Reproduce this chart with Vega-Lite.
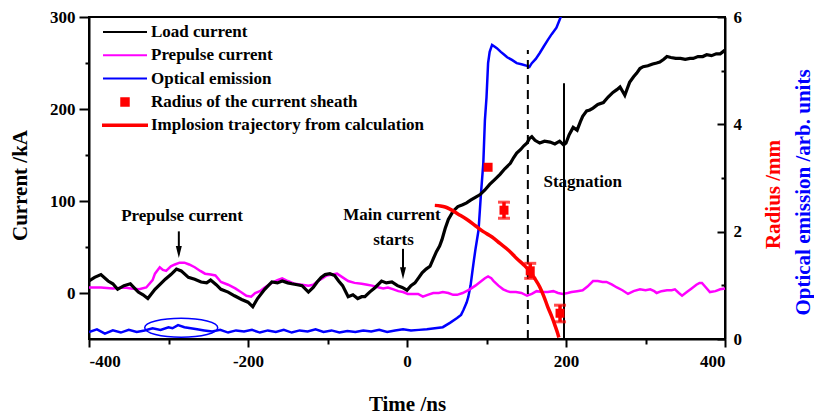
{
"$schema": "https://vega.github.io/schema/vega-lite/v6.json",
"width": 636, "height": 322,
"autosize": {"type": "none"},
"padding": {"left": 89, "top": 17, "right": 89, "bottom": 75},
"background": "white",
"config": {
  "view": {"stroke": "black", "strokeWidth": 2},
  "axis": {"domainColor": "black", "domainWidth": 2, "tickColor": "black", "tickWidth": 2, "labelColor": "black", "titleColor": "black", "labelFont": "Liberation Serif", "labelFontWeight": "bold", "labelFontSize": 17, "titleFont": "Liberation Serif", "titleFontWeight": "bold", "titleFontSize": 21, "grid": false},
  "legend": {"labelFont": "Liberation Serif", "labelFontWeight": "bold", "labelFontSize": 17, "labelColor": "black", "labelLimit": 500, "symbolStrokeWidth": 2},
  "text": {"font": "Liberation Serif", "fontWeight": "bold", "fontSize": 17, "color": "black"}
},
"datasets": {
  "load": [
    {"t":-400,"v":13},{"t":-393,"v":17},{"t":-385,"v":20},{"t":-376,"v":13},{"t":-370,"v":10},{"t":-364,"v":4},{"t":-356,"v":8},{"t":-348,"v":10},{"t":-338,"v":1},{"t":-332,"v":-2},{"t":-326,"v":-6},{"t":-317,"v":4},{"t":-310,"v":10},{"t":-304,"v":15},{"t":-297,"v":20},{"t":-290,"v":26},{"t":-284,"v":24},{"t":-275,"v":17},{"t":-267,"v":15},{"t":-259,"v":12},{"t":-252,"v":11},{"t":-247,"v":14},{"t":-240,"v":9},{"t":-234,"v":4},{"t":-225,"v":1},{"t":-217,"v":-3},{"t":-208,"v":-7},{"t":-200,"v":-10},{"t":-194,"v":-15},{"t":-188,"v":-6},{"t":-179,"v":4},{"t":-170,"v":12},{"t":-163,"v":11},{"t":-157,"v":13},{"t":-150,"v":11},{"t":-145,"v":10},{"t":-138,"v":9},{"t":-132,"v":8},{"t":-124,"v":1},{"t":-118,"v":6},{"t":-113,"v":12},{"t":-108,"v":17},{"t":-103,"v":20},{"t":-97,"v":21},{"t":-91,"v":19},{"t":-86,"v":13},{"t":-81,"v":8},{"t":-74,"v":-4},{"t":-68,"v":-2},{"t":-62,"v":-6},{"t":-57,"v":-4},{"t":-53,"v":-4},{"t":-47,"v":1},{"t":-40,"v":6},{"t":-32,"v":13},{"t":-26,"v":11},{"t":-19,"v":12},{"t":-12,"v":8},{"t":-6,"v":6},{"t":0,"v":3},{"t":5,"v":8},{"t":10,"v":11},{"t":15,"v":17},{"t":19,"v":22},{"t":24,"v":26},{"t":29,"v":29},{"t":33,"v":37},{"t":37,"v":45},{"t":41,"v":51},{"t":44,"v":58},{"t":48,"v":70},{"t":52,"v":80},{"t":58,"v":89},{"t":64,"v":94},{"t":70,"v":96},{"t":75,"v":98},{"t":80,"v":101},{"t":86,"v":104},{"t":92,"v":107},{"t":98,"v":112},{"t":104,"v":118},{"t":110,"v":123},{"t":117,"v":129},{"t":123,"v":135},{"t":130,"v":141},{"t":134,"v":147},{"t":138,"v":152},{"t":143,"v":156},{"t":147,"v":160},{"t":151,"v":163},{"t":154,"v":168},{"t":157,"v":170},{"t":161,"v":166},{"t":167,"v":163},{"t":173,"v":165},{"t":180,"v":164},{"t":186,"v":162},{"t":192,"v":165},{"t":197,"v":161},{"t":200,"v":163},{"t":204,"v":172},{"t":209,"v":180},{"t":214,"v":177},{"t":218,"v":186},{"t":221,"v":192},{"t":226,"v":198},{"t":230,"v":199},{"t":234,"v":201},{"t":240,"v":205},{"t":247,"v":207},{"t":253,"v":213},{"t":259,"v":218},{"t":264,"v":221},{"t":268,"v":224},{"t":272,"v":218},{"t":274,"v":215},{"t":277,"v":222},{"t":280,"v":229},{"t":285,"v":235},{"t":289,"v":239},{"t":293,"v":244},{"t":297,"v":246},{"t":303,"v":247},{"t":309,"v":249},{"t":314,"v":250},{"t":318,"v":251},{"t":323,"v":254},{"t":327,"v":257},{"t":332,"v":256},{"t":338,"v":255},{"t":344,"v":255},{"t":350,"v":254},{"t":356,"v":255},{"t":360,"v":255},{"t":366,"v":257},{"t":372,"v":257},{"t":377,"v":259},{"t":383,"v":258},{"t":389,"v":260},{"t":394,"v":260},{"t":400,"v":264}
  ],
  "prepulse": [
    {"t":-400,"v":6},{"t":-385,"v":6},{"t":-370,"v":5},{"t":-355,"v":6},{"t":-347,"v":5},{"t":-337,"v":4},{"t":-328,"v":6},{"t":-320,"v":14},{"t":-317,"v":21},{"t":-311,"v":28},{"t":-307,"v":25},{"t":-303,"v":24},{"t":-297,"v":29},{"t":-292,"v":31},{"t":-286,"v":33},{"t":-280,"v":33},{"t":-274,"v":31},{"t":-267,"v":28},{"t":-260,"v":24},{"t":-254,"v":21},{"t":-247,"v":20},{"t":-241,"v":19},{"t":-234,"v":12},{"t":-225,"v":9},{"t":-216,"v":5},{"t":-209,"v":1},{"t":-202,"v":-3},{"t":-196,"v":-4},{"t":-191,"v":0},{"t":-185,"v":2},{"t":-179,"v":6},{"t":-170,"v":11},{"t":-163,"v":14},{"t":-157,"v":16},{"t":-150,"v":13},{"t":-141,"v":10},{"t":-132,"v":9},{"t":-124,"v":8},{"t":-118,"v":9},{"t":-112,"v":13},{"t":-106,"v":16},{"t":-101,"v":19},{"t":-94,"v":20},{"t":-88,"v":21},{"t":-81,"v":17},{"t":-74,"v":13},{"t":-66,"v":11},{"t":-57,"v":10},{"t":-50,"v":9},{"t":-44,"v":8},{"t":-35,"v":6},{"t":-30,"v":5},{"t":-24,"v":6},{"t":-17,"v":4},{"t":-11,"v":2},{"t":-5,"v":1},{"t":1,"v":-1},{"t":8,"v":-1},{"t":14,"v":-1},{"t":20,"v":-4},{"t":26,"v":-2},{"t":33,"v":0},{"t":40,"v":0},{"t":45,"v":1},{"t":52,"v":0},{"t":58,"v":-2},{"t":63,"v":-2},{"t":70,"v":0},{"t":79,"v":4},{"t":86,"v":8},{"t":92,"v":12},{"t":98,"v":16},{"t":102,"v":18},{"t":106,"v":16},{"t":109,"v":13},{"t":115,"v":8},{"t":121,"v":4},{"t":126,"v":2},{"t":130,"v":1},{"t":137,"v":1},{"t":144,"v":0},{"t":151,"v":-3},{"t":157,"v":-1},{"t":163,"v":2},{"t":170,"v":1},{"t":177,"v":1},{"t":184,"v":2},{"t":190,"v":0},{"t":196,"v":-1},{"t":202,"v":0},{"t":207,"v":1},{"t":214,"v":2},{"t":221,"v":3},{"t":227,"v":7},{"t":234,"v":13},{"t":240,"v":13},{"t":246,"v":12},{"t":251,"v":12},{"t":258,"v":9},{"t":264,"v":6},{"t":271,"v":3},{"t":278,"v":-1},{"t":285,"v":2},{"t":293,"v":4},{"t":300,"v":3},{"t":306,"v":4},{"t":311,"v":2},{"t":314,"v":0},{"t":320,"v":2},{"t":327,"v":3},{"t":333,"v":3},{"t":337,"v":4},{"t":342,"v":0},{"t":346,"v":-3},{"t":352,"v":1},{"t":358,"v":5},{"t":364,"v":9},{"t":368,"v":11},{"t":371,"v":11},{"t":376,"v":6},{"t":381,"v":1},{"t":388,"v":2},{"t":394,"v":4},{"t":400,"v":5}
  ],
  "optical": [
    {"t":-400,"v":0.13},{"t":-390,"v":0.18},{"t":-380,"v":0.1},{"t":-370,"v":0.16},{"t":-360,"v":0.12},{"t":-350,"v":0.17},{"t":-340,"v":0.13},{"t":-330,"v":0.16},{"t":-320,"v":0.2},{"t":-310,"v":0.17},{"t":-300,"v":0.22},{"t":-295,"v":0.2},{"t":-288,"v":0.26},{"t":-280,"v":0.22},{"t":-272,"v":0.2},{"t":-264,"v":0.18},{"t":-255,"v":0.16},{"t":-245,"v":0.14},{"t":-235,"v":0.17},{"t":-225,"v":0.12},{"t":-215,"v":0.16},{"t":-205,"v":0.14},{"t":-195,"v":0.17},{"t":-185,"v":0.12},{"t":-175,"v":0.16},{"t":-165,"v":0.13},{"t":-155,"v":0.17},{"t":-145,"v":0.12},{"t":-135,"v":0.16},{"t":-125,"v":0.14},{"t":-115,"v":0.18},{"t":-105,"v":0.13},{"t":-95,"v":0.16},{"t":-85,"v":0.12},{"t":-75,"v":0.15},{"t":-65,"v":0.13},{"t":-55,"v":0.16},{"t":-45,"v":0.14},{"t":-35,"v":0.17},{"t":-25,"v":0.13},{"t":-15,"v":0.16},{"t":-5,"v":0.18},{"t":5,"v":0.16},{"t":15,"v":0.17},{"t":25,"v":0.18},{"t":35,"v":0.2},{"t":45,"v":0.22},{"t":54,"v":0.3},{"t":63,"v":0.39},{"t":68,"v":0.45},{"t":71,"v":0.54},{"t":75,"v":0.68},{"t":77,"v":0.78},{"t":80,"v":1.0},{"t":82,"v":1.23},{"t":84,"v":1.45},{"t":86,"v":1.66},{"t":90,"v":2.03},{"t":93,"v":2.7},{"t":96,"v":3.28},{"t":98,"v":4.08},{"t":100,"v":4.5},{"t":102,"v":5.14},{"t":104,"v":5.35},{"t":107,"v":5.48},{"t":110,"v":5.45},{"t":113,"v":5.42},{"t":118,"v":5.35},{"t":122,"v":5.3},{"t":126,"v":5.25},{"t":132,"v":5.2},{"t":138,"v":5.14},{"t":144,"v":5.12},{"t":151,"v":5.09},{"t":154,"v":5.07},{"t":157,"v":5.14},{"t":162,"v":5.22},{"t":167,"v":5.33},{"t":172,"v":5.45},{"t":177,"v":5.57},{"t":182,"v":5.68},{"t":188,"v":5.8},{"t":192,"v":5.95},{"t":196,"v":6.1}
  ],
  "ellipse": [{"t":-284,"v":0.21}],
  "traj": [
    {"t":35,"v":2.49},{"t":42,"v":2.48},{"t":48,"v":2.46},{"t":54,"v":2.42},{"t":64,"v":2.33},{"t":75,"v":2.23},{"t":86,"v":2.11},{"t":96,"v":2.0},{"t":107,"v":1.9},{"t":117,"v":1.78},{"t":128,"v":1.65},{"t":138,"v":1.5},{"t":147,"v":1.38},{"t":155,"v":1.25},{"t":161,"v":1.12},{"t":167,"v":0.97},{"t":172,"v":0.8},{"t":177,"v":0.6},{"t":182,"v":0.42},{"t":186,"v":0.26},{"t":189,"v":0.13},{"t":191,"v":0.03}
  ],
  "radius": [
    {"t":102,"r":3.2},
    {"t":122,"r":2.4,"lo":2.25,"hi":2.55},
    {"t":155,"r":1.27,"lo":1.13,"hi":1.41},
    {"t":192.5,"r":0.48,"lo":0.32,"hi":0.63}
  ],
  "dashed": [{"t":152,"y1":-50,"y2":264}],
  "solid": [{"t":197.5,"y1":-50,"y2":228}],
  "labels": [
    {"t":-283,"v":84,"text":"Prepulse current"},
    {"t":-19,"v":85,"text":"Main current"},
    {"t":-17,"v":58,"text":"starts"},
    {"t":221,"v":121,"text":"Stagnation"}
  ],
  "arrows": [
    {"t":-287,"y1":67,"y2":45,"tip":44.5},
    {"t":-5,"y1":48,"y2":22,"tip":21.5}
  ]
},
"layer": [
  {
    "layer": [
      {
        "data": {"name": "optical"},
        "mark": {"type": "line", "strokeWidth": 2.5, "clip": true},
        "encoding": {
          "x": {"field": "t", "type": "quantitative", "title": "Time /ns", "scale": {"domain": [-400, 400], "nice": false, "zero": false}},
          "y": {"field": "v", "type": "quantitative", "title": "Optical emission /arb. units", "scale": {"domain": [0, 6], "nice": false, "zero": false},
                "axis": {"orient": "right", "domain": false, "ticks": false, "labels": false, "titleColor": "#0000ff", "titleAngle": 270, "titleBaseline": "middle", "titleAlign": "center", "titleX": 78, "titleY": 175}},
          "color": {"datum": "Optical emission", "type": "nominal",
                    "scale": {"domain": ["Load current", "Prepulse current", "Optical emission", "Radius of the current sheath", "Implosion trajectory from calculation"], "range": ["#000000", "#ff00ff", "#0000ff", "#ff0000", "#ff0000"]},
                    "legend": {"orient": "none", "legendX": 13, "legendY": 6, "title": null, "padding": 0, "symbolSize": 1936, "symbolType": "stroke", "symbolStrokeWidth": 2, "clipHeight": 18, "rowPadding": 5.3, "labelOffset": 3, "labelLimit": 500,
                               "encode": {"symbols": {"update": {
                                 "shape": {"signal": "datum.value === 'Radius of the current sheath' ? 'M-0.17,-0.17H0.17V0.17H-0.17Z' : (datum.value === 'Implosion trajectory from calculation' ? 'M-1,-0.035H1V0.035H-1Z' : 'stroke')"},
                                 "fill": {"signal": "datum.value === 'Radius of the current sheath' || datum.value === 'Implosion trajectory from calculation' ? '#ff0000' : 'transparent'"},
                                 "opacity": {"value": 1}
                               }}}}}
        }
      },
      {
        "data": {"name": "ellipse"},
        "mark": {"type": "point", "shape": "M-1,0 C-1,-0.144 -0.552,-0.26 0,-0.26 C0.552,-0.26 1,-0.144 1,0 C1,0.144 0.552,0.26 0,0.26 C-0.552,0.26 -1,0.144 -1,0 Z", "size": 5329, "filled": false, "stroke": "#0000ff", "strokeWidth": 1.5, "opacity": 1},
        "encoding": {
          "x": {"field": "t", "type": "quantitative", "title": "Time /ns"},
          "y": {"field": "v", "type": "quantitative", "title": "Optical emission /arb. units"}
        }
      }
    ]
  },
  {
    "layer": [
      {
        "data": {"name": "prepulse"},
        "mark": {"type": "line", "strokeWidth": 2.5},
        "encoding": {
          "x": {"field": "t", "type": "quantitative", "title": "Time /ns",
                "axis": {"values": [-400, -300, -200, -100, 0, 100, 200, 300, 400], "labelExpr": "datum.value % 200 === 0 ? '' + datum.value : ''", "tickSize": {"condition": {"test": "datum.value % 200 === 0", "value": 8}, "value": 5}, "labelPadding": 6, "titleY": 71, "titleBaseline": "alphabetic"}},
          "y": {"field": "v", "type": "quantitative", "title": "Current /kA", "scale": {"domain": [-50, 300], "nice": false, "zero": false},
                "axis": {"orient": "left", "values": [0, 50, 100, 150, 200, 250, 300], "labelExpr": "datum.value % 100 === 0 ? '' + datum.value : ''", "tickSize": {"condition": {"test": "datum.value % 100 === 0", "value": 10}, "value": 4}, "labelPadding": 4, "titleAngle": 270, "titleBaseline": "middle", "titleAlign": "center", "titleX": -69, "titleY": 168}},
          "color": {"datum": "Prepulse current", "type": "nominal"}
        }
      },
      {
        "data": {"name": "load"},
        "mark": {"type": "line", "strokeWidth": 3.2},
        "encoding": {
          "x": {"field": "t", "type": "quantitative", "title": "Time /ns"},
          "y": {"field": "v", "type": "quantitative", "title": "Current /kA"},
          "color": {"datum": "Load current", "type": "nominal"}
        }
      },
      {
        "data": {"name": "dashed"},
        "mark": {"type": "rule", "color": "black", "strokeWidth": 2, "strokeDash": [9, 6]},
        "encoding": {
          "x": {"field": "t", "type": "quantitative", "title": "Time /ns"},
          "y": {"field": "y1", "type": "quantitative", "title": "Current /kA"},
          "y2": {"field": "y2"}
        }
      },
      {
        "data": {"name": "solid"},
        "mark": {"type": "rule", "color": "black", "strokeWidth": 2},
        "encoding": {
          "x": {"field": "t", "type": "quantitative", "title": "Time /ns"},
          "y": {"field": "y1", "type": "quantitative", "title": "Current /kA"},
          "y2": {"field": "y2"}
        }
      },
      {
        "data": {"name": "arrows"},
        "mark": {"type": "rule", "color": "black", "strokeWidth": 2},
        "encoding": {
          "x": {"field": "t", "type": "quantitative", "title": "Time /ns"},
          "y": {"field": "y1", "type": "quantitative", "title": "Current /kA"},
          "y2": {"field": "y2"}
        }
      },
      {
        "data": {"name": "arrows"},
        "mark": {"type": "point", "shape": "M-0.5,-1 L0.5,-1 L0,1 Z", "size": 144, "filled": true, "color": "black", "opacity": 1},
        "encoding": {
          "x": {"field": "t", "type": "quantitative", "title": "Time /ns"},
          "y": {"field": "tip", "type": "quantitative", "title": "Current /kA"}
        }
      },
      {
        "data": {"name": "labels"},
        "mark": {"type": "text", "align": "center", "baseline": "middle"},
        "encoding": {
          "x": {"field": "t", "type": "quantitative", "title": "Time /ns"},
          "y": {"field": "v", "type": "quantitative", "title": "Current /kA"},
          "text": {"field": "text"}
        }
      }
    ]
  },
  {
    "layer": [
      {
        "data": {"name": "traj"},
        "mark": {"type": "line", "strokeWidth": 3.5, "interpolate": "monotone"},
        "encoding": {
          "x": {"field": "t", "type": "quantitative", "title": "Time /ns"},
          "y": {"field": "v", "type": "quantitative", "title": "Radius /mm", "scale": {"domain": [0, 6], "nice": false, "zero": false},
                "axis": {"orient": "right", "values": [0, 1, 2, 3, 4, 5, 6], "labelExpr": "datum.value % 2 === 0 ? '' + datum.value : ''", "tickSize": {"condition": {"test": "datum.value % 2 === 0", "value": -8}, "value": -4}, "labelPadding": 16, "titleColor": "#ff0000", "titleAngle": 270, "titleBaseline": "middle", "titleAlign": "center", "titleX": 48, "titleY": 177}},
          "color": {"datum": "Implosion trajectory from calculation", "type": "nominal"}
        }
      },
      {
        "data": {"name": "radius"},
        "transform": [{"filter": "isValid(datum.lo)"}],
        "mark": {"type": "errorbar", "ticks": {"size": 12, "thickness": 3, "color": "#ff0000"}, "rule": {"strokeWidth": 3.5, "color": "#ff0000"}},
        "encoding": {
          "x": {"field": "t", "type": "quantitative", "title": "Time /ns"},
          "y": {"field": "lo", "type": "quantitative", "title": "Radius /mm"},
          "y2": {"field": "hi"}
        }
      },
      {
        "data": {"name": "radius"},
        "mark": {"type": "square", "size": 81, "filled": true, "opacity": 1},
        "encoding": {
          "x": {"field": "t", "type": "quantitative", "title": "Time /ns"},
          "y": {"field": "r", "type": "quantitative", "title": "Radius /mm"},
          "color": {"datum": "Radius of the current sheath", "type": "nominal"}
        }
      }
    ]
  }
],
"resolve": {"scale": {"y": "independent"}, "axis": {"y": "independent"}}
}
